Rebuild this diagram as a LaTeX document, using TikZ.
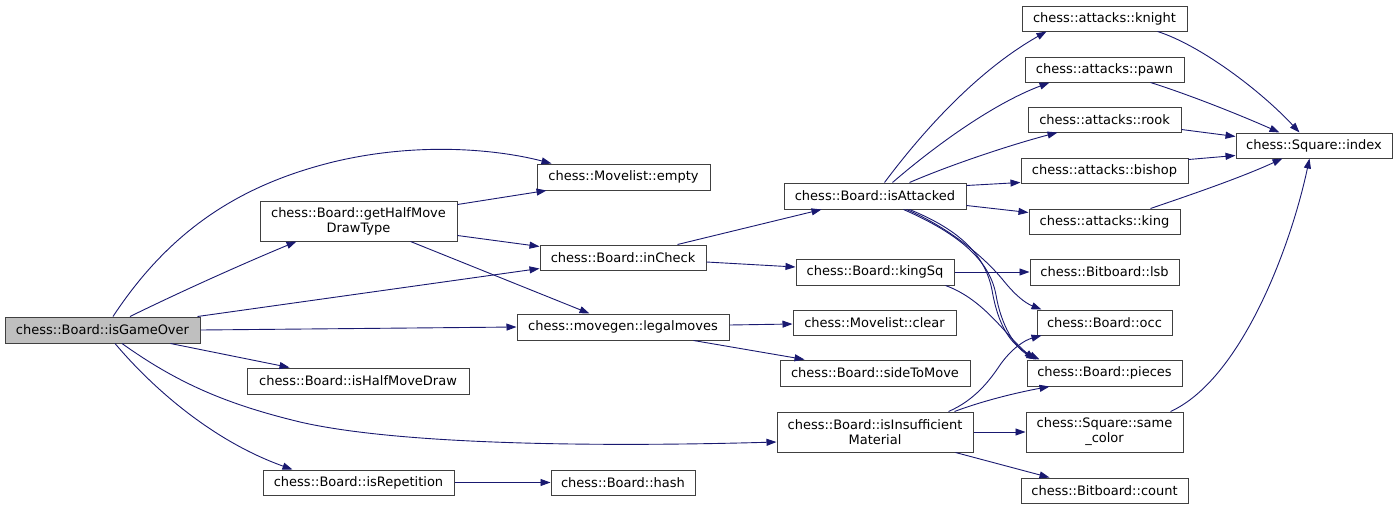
\documentclass[tikz,border=0pt]{standalone}
\usepackage{fontspec}
\setmainfont{DejaVu Sans}
\usetikzlibrary{arrows.meta}
\definecolor{edgec}{HTML}{191970}
\definecolor{bordr}{HTML}{404040}
\definecolor{curfill}{HTML}{BFBFBF}
\tikzset{
 fn/.style={draw=bordr, line width=1pt, fill=white, inner sep=0pt, font=\fontsize{13}{15}\selectfont, align=center, minimum height=26pt},
 fn2/.style={fn, minimum height=40pt},
 cur/.style={fn, fill=curfill},
 call/.style={draw=edgec, line width=0.9pt, -{Triangle[length=10pt,width=7pt]}}
}
\begin{document}
\begin{tikzpicture}[x=1pt,y=-1pt]
\useasboundingbox (0,0) rectangle (1397,509);
% nodes
\node[cur, minimum width=195pt] (over) at (102.5,330) {chess::Board::isGameOver};
\node[fn2, minimum width=197pt] (ghm) at (358.5,221) {chess::Board::getHalfMove\\DrawType};
\node[fn, minimum width=173pt] (empty) at (623.5,177) {chess::Movelist::empty};
\node[fn, minimum width=166pt, minimum height=25pt] (inCheck) at (623,257.5) {chess::Board::inCheck};
\node[fn, minimum width=212pt] (legal) at (623,327) {chess::movegen::legalmoves};
\node[fn, minimum width=222pt] (hmd) at (358,381) {chess::Board::isHalfMoveDraw};
\node[fn, minimum width=191pt, minimum height=25pt] (rep) at (358.5,482.5) {chess::Board::isRepetition};
\node[fn, minimum width=182pt] (att) at (875,196) {chess::Board::isAttacked};
\node[fn, minimum width=158pt] (ksq) at (875,272) {chess::Board::kingSq};
\node[fn, minimum width=163pt, minimum height=25pt] (clear) at (874.5,322.5) {chess::Movelist::clear};
\node[fn, minimum width=190pt] (stm) at (875,373) {chess::Board::sideToMove};
\node[fn2, minimum width=196pt] (ins) at (875,432) {chess::Board::isInsufficient\\Material};
\node[fn, minimum width=144pt, minimum height=25pt] (hash) at (623,482.5) {chess::Board::hash};
\node[fn, minimum width=165pt, minimum height=25pt] (knight) at (1104.5,18.5) {chess::attacks::knight};
\node[fn, minimum width=159pt, minimum height=25pt] (pawn) at (1104.5,69.5) {chess::attacks::pawn};
\node[fn, minimum width=153pt, minimum height=25pt] (rook) at (1104.5,119.5) {chess::attacks::rook};
\node[fn, minimum width=167pt, minimum height=25pt] (bishop) at (1104.5,170.5) {chess::attacks::bishop};
\node[fn, minimum width=151pt, minimum height=25pt] (king) at (1104.5,221.5) {chess::attacks::king};
\node[fn, minimum width=149pt] (lsb) at (1104.5,272) {chess::Bitboard::lsb};
\node[fn, minimum width=135pt, minimum height=25pt] (occ) at (1104.5,322.5) {chess::Board::occ};
\node[fn, minimum width=155pt] (pieces) at (1104.5,373) {chess::Board::pieces};
\node[fn2, minimum width=157pt] (same) at (1104.5,432) {chess::Square::same\\\_color};
\node[fn, minimum width=167pt, minimum height=25pt] (count) at (1104.5,490.5) {chess::Bitboard::count};
\node[fn, minimum width=156pt, minimum height=25pt] (index) at (1314,145.5) {chess::Square::index};
% edges from isGameOver
\draw[call] ([xshift=10.5pt]over.north) .. controls (170,230) and (240,185) .. (333,162) .. controls (420,141) and (500,150) .. ([xshift=15pt]empty.north west);
\draw[call] ([xshift=27.5pt]over.north) .. controls (180,292) and (240,265) .. ([xshift=37pt]ghm.south west);
\draw[call] ([xshift=-3pt]over.north east) -- ([yshift=2pt]inCheck.south west);
\draw[call] (over.east) -- (legal.west);
\draw[call] ([xshift=-30pt]over.south east) -- ([xshift=43pt]hmd.north west);
\draw[call] ([xshift=19.5pt]over.south) .. controls (180,385) and (230,405) .. (300,422) .. controls (400,445) and (600,447) .. ([yshift=-10pt]ins.west);
\draw[call] ([xshift=12.5pt]over.south) .. controls (150,385) and (210,440) .. ([xshift=30pt]rep.north west);
% getHalfMoveDrawType
\draw[call] ([yshift=-4pt]ghm.north east) -- ([xshift=10pt]empty.south west);
\draw[call] ([yshift=6pt]ghm.south east) -- ([yshift=-2pt]inCheck.north west);
\draw[call] ([xshift=-47pt]ghm.south east) -- ([xshift=73pt]legal.north west);
% inCheck
\draw[call] ([xshift=-29pt]inCheck.north east) -- ([xshift=38pt]att.south west);
\draw[call] ([yshift=-4.5pt]inCheck.east) -- ([yshift=5pt]ksq.west);
% legalmoves
\draw[call] ([yshift=2pt]legal.east) -- ([yshift=-1.5pt]clear.west);
\draw[call] ([xshift=-36pt]legal.south east) -- ([xshift=25pt]stm.north west);
% isRepetition
\draw[call] (rep.east) -- (hash.west);
% isAttacked
\draw[call] ([xshift=101pt]att.north west) .. controls (920,135) and (975,72) .. ([xshift=25pt]knight.south west);
\draw[call] ([xshift=109pt]att.north west) .. controls (930,150) and (990,105) .. ([xshift=25pt]pawn.south west);
\draw[call] ([xshift=126pt]att.north west) .. controls (950,165) and (1010,145) .. ([xshift=30pt]rook.south west);
\draw[call] ([yshift=-3pt]att.north east) -- ([yshift=1pt]bishop.south west);
\draw[call] ([yshift=4pt]att.south east) -- ([yshift=-4pt]king.north west);
\draw[call] ([xshift=123pt]att.south west) .. controls (950,228) and (985,258) .. (1003,280) .. controls (1015,295) and (1025,303) .. ([xshift=5pt]occ.north west);
\draw[call] ([xshift=126pt]att.south west) .. controls (960,230) and (985,255) .. (992,290) .. controls (998,325) and (1010,345) .. ([xshift=13pt]pieces.north west);
\draw[call] ([xshift=120pt]att.south west) .. controls (962,235) and (990,262) .. (996,295) .. controls (1001,325) and (1015,348) .. ([xshift=10pt]pieces.north west);
% kingSq
\draw[call] (ksq.east) -- (lsb.west);
\draw[call] ([xshift=-9pt]ksq.south east) .. controls (985,300) and (1005,335) .. ([xshift=8pt]pieces.north west);
% isInsufficientMaterial
\draw[call] ([xshift=-25pt]ins.north east) .. controls (975,400) and (990,380) .. (1000,365) .. controls (1012,348) and (1025,340) .. ([xshift=5pt]occ.south west);
\draw[call] ([xshift=-19pt]ins.north east) .. controls (985,400) and (1020,392) .. ([xshift=23pt]pieces.south west);
\draw[call] (ins.east) -- (same.west);
\draw[call] ([xshift=-18pt]ins.south east) -- ([xshift=29pt]count.north west);
% to Square::index
\draw[call] ([xshift=-30pt]knight.south east) .. controls (1200,45) and (1260,90) .. ([xshift=64pt]index.north west);
\draw[call] ([xshift=-34pt]pawn.south east) .. controls (1190,95) and (1240,115) .. ([xshift=44pt]index.north west);
\draw[call] ([yshift=3pt]rook.south east) -- ([yshift=-4pt]index.north west);
\draw[call] ([yshift=-2pt]bishop.north east) -- ([yshift=3pt]index.south west);
\draw[call] ([xshift=-30pt]king.north east) .. controls (1190,195) and (1240,178) .. ([xshift=47pt]index.south west);
\draw[call] ([xshift=-13pt]same.north east) .. controls (1240,380) and (1290,250) .. ([xshift=74pt]index.south west);
\end{tikzpicture}
\end{document}
